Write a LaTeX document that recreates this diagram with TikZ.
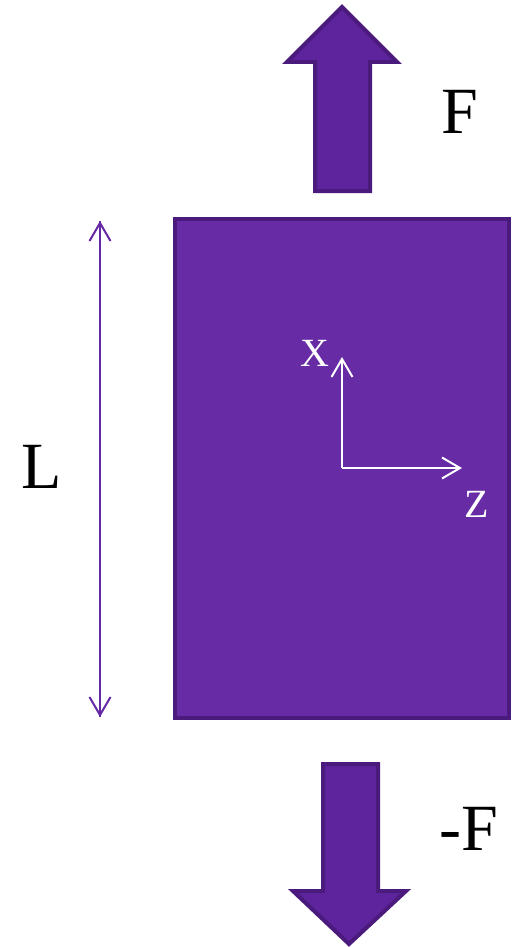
\documentclass[tikz,border=0pt]{standalone}
\usepackage{fontspec}
\setmainfont{Liberation Serif}
\usepackage{tikz}
\usetikzlibrary{arrows.meta}
\definecolor{barfill}{RGB}{104,43,166}
\definecolor{forcefill}{RGB}{94,36,158}
\definecolor{edgepurple}{RGB}{74,26,124}
\definecolor{dimpurple}{RGB}{100,40,165}
\tikzset{
  bigtext/.style={font=\fontsize{66}{70}\selectfont, inner sep=0pt},
  axtext/.style={font=\fontsize{40}{44}\selectfont, text=white, inner sep=0pt},
  forcearrow/.style={fill=forcefill, draw=edgepurple, line width=4pt, line join=miter},
  barb/.style={-{Straight Barb[length=18pt,width=21pt]}}
}

\begin{document}
\begin{tikzpicture}[x=1pt,y=-1pt]
        \useasboundingbox (0,0) rectangle (516,947);
        % bar
        \draw[fill=barfill, draw=edgepurple, line width=4pt] (175,219) rectangle (509,718);
        % forces
        \draw[forcearrow] (315,191) -- (315,62) -- (287,62) -- (342,7) -- (397,62) -- (370,62) -- (370,191) -- cycle;
        \draw[forcearrow] (323,764) -- (378,764) -- (378,891) -- (406,891) -- (349,944) -- (293,891) -- (323,891) -- cycle;
        \node[bigtext] (F) at (460,112) {F};
        \node[bigtext] (mF) at (469,829) {-F};
        % length
        \coordinate (Ltop) at (100,221);
        \coordinate (Lbot) at (100,717);
        \draw[barb, dimpurple, line width=2pt] (Lbot) -- (Ltop);
        \draw[barb, dimpurple, line width=2pt] (Ltop) -- (Lbot);
        \node[bigtext] (L) at (42,467) {L};
        % axes
        \coordinate (O) at (342,468);
        \coordinate (xend) at (342,357);
        \coordinate (zend) at (462,468);
        \draw[barb, white, line width=2pt] (O) -- (xend);
        \draw[barb, white, line width=2pt] (O) -- (zend);
        \node[axtext] (xlab) at (315,353) {X};
        \node[axtext] (zlab) at (477,504) {Z};
      \end{tikzpicture}
\end{document}
